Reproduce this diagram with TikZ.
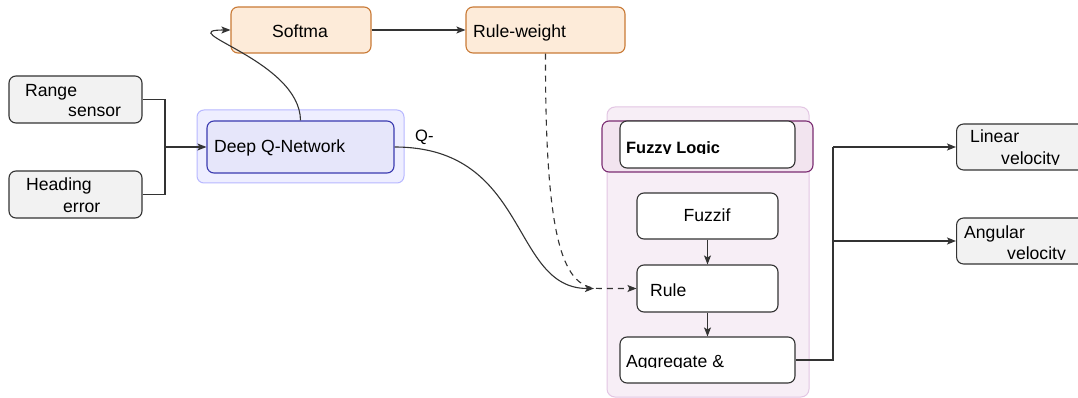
\documentclass[tikz,border=0pt]{standalone}
\usepackage{fontspec}
\setmainfont{Liberation Sans}
\usetikzlibrary{arrows.meta}
\definecolor{edgegray}{HTML}{333333}
\definecolor{grayfill}{HTML}{F2F2F2}
\definecolor{qfill}{HTML}{E6E6FA}
\definecolor{qdraw}{HTML}{3A3AB0}
\definecolor{qhalo}{HTML}{EEEEFF}
\definecolor{qhalodraw}{HTML}{B8B8FF}
\definecolor{orfill}{HTML}{FDEBD9}
\definecolor{ordraw}{HTML}{C97A36}
\definecolor{fzfill}{HTML}{F7EEF6}
\definecolor{fzdraw}{HTML}{E3C6E3}
\definecolor{hdfill}{HTML}{F2E4EF}
\definecolor{hddraw}{HTML}{7B2D72}
\tikzset{
  box/.style={draw=edgegray, rounded corners=7pt, inner sep=0pt, line width=1.1pt},
  graybox/.style={box, fill=grayfill},
  whitebox/.style={box, fill=white},
  orbox/.style={box, draw=ordraw, fill=orfill},
  txt/.style={anchor=base west, inner sep=0pt},
  link/.style={draw=edgegray, line width=1.1pt},
  arr/.style={link, -{Stealth[length=9pt,width=7pt,inset=2pt]}},
}
\begin{document}
\begin{tikzpicture}[x=1pt,y=-1pt,font=\fontsize{17.6}{20}\selectfont]
\useasboundingbox[fill=white] (0,0) rectangle (1078,398);

% ---- containers ----
\draw[fill=qhalo, draw=qhalodraw, line width=1pt, rounded corners=7pt] (197,110) rectangle (404,183);
\draw[fill=fzfill, draw=fzdraw, line width=1pt, rounded corners=8pt] (607,107) rectangle (809,397);
\draw[fill=hdfill, draw=hddraw, line width=1.1pt, rounded corners=7pt] (602,121) rectangle (813,172);

% ---- inputs ----
\node[graybox, minimum width=133, minimum height=47] (range) at (75.5,99.5) {};
\node[txt] (rangeA) at (25,97) {Range};
\node[txt] (rangeB) at (68,117) {sensor};
\node[graybox, minimum width=133, minimum height=47] (heading) at (75.5,194.5) {};
\node[txt] (headA) at (26,190) {Heading};
\node[txt] (headB) at (63,212) {error};

% ---- DQN ----
\node[box, draw=qdraw, fill=qfill, minimum width=187, minimum height=52] (dqn) at (300.5,147) {};
\node[txt] (dqnT) at (214,153) {Deep Q-Network};

% ---- softmax and weights ----
\node[orbox, minimum width=140, minimum height=46] (soft) at (301,30) {};
\node[anchor=base, inner sep=0pt] (softT) at (300,37.5) {Softma};
\node[orbox, minimum width=159, minimum height=46] (rw) at (545.5,30) {};
\node[txt] (rwT) at (473,37.5) {Rule-weight};

% ---- fuzzy block ----
\node[whitebox, minimum width=175, minimum height=47] (title) at (707.5,144.5) {};
\begin{scope}
  \clip (615,125) rectangle (800,154);
  \node[txt, font=\bfseries\fontsize{16.4}{19}\selectfont] (titleT) at (626,154) {Fuzzy Logic};
\end{scope}
\node[whitebox, minimum width=141, minimum height=46] (fuzzif) at (707.5,216) {};
\node[anchor=base, inner sep=0pt] (fuzzifT) at (707,222) {Fuzzif};
\node[whitebox, minimum width=141, minimum height=47] (rule) at (707.5,288.5) {};
\node[txt] (ruleT) at (650,296) {Rule};
\node[whitebox, minimum width=175, minimum height=46] (agg) at (707.5,360) {};
\begin{scope}
  \clip (615,340) rectangle (800,367.5);
  \node[txt] (aggT) at (626,367.5) {Aggregate \&};
\end{scope}

% ---- outputs ----
\node[graybox, minimum width=140, minimum height=46, anchor=west] (lin) at (956,147) {};
\node[txt] (linA) at (970,143) {Linear};
\begin{scope}
  \clip (960,148) rectangle (1078,164.5);
  \node[txt] (linB) at (1001,164.5) {velocity};
\end{scope}
\node[graybox, minimum width=140, minimum height=46, anchor=west] (ang) at (956,241) {};
\node[txt] (angA) at (964,238) {Angular};
\begin{scope}
  \clip (960,242) rectangle (1078,259.5);
  \node[txt] (angB) at (1007,259.5) {velocity};
\end{scope}

% ---- connectors ----
\coordinate (join) at (165,147);
\draw[link] (range.east) -| (join);
\draw[link] (heading.east) -| (join);
\draw[arr] (join) -- (dqn.west);

\draw[arr] (dqn.north) .. controls (300,60) and (170,30) .. (soft.west);
\draw[arr] (soft.east) -- (rw.west);

\coordinate (qin) at (594,288.5);
\coordinate (bend) at (600,288.5);
\draw[arr] (dqn.east) .. controls (530,147) and (510,288.5) .. (qin);
\node[txt, font=\fontsize{16.5}{19}\selectfont] (qlab) at (415,142) {Q-};
\draw[arr, dashed, dash pattern=on 6pt off 5pt] (rw.south) .. controls (545,250) and (565,288.5) .. (bend) -- (rule.west);

\draw[arr] (fuzzif.south) -- (rule.north);
\draw[arr] (rule.south) -- (agg.north);

\coordinate (split) at (833,147);
\coordinate (branch) at (833,241);
\draw[link] (agg.east) -| (split);
\draw[arr] (split) -- (lin.west);
\draw[arr] (branch) -- (ang.west);
\end{tikzpicture}
\end{document}
